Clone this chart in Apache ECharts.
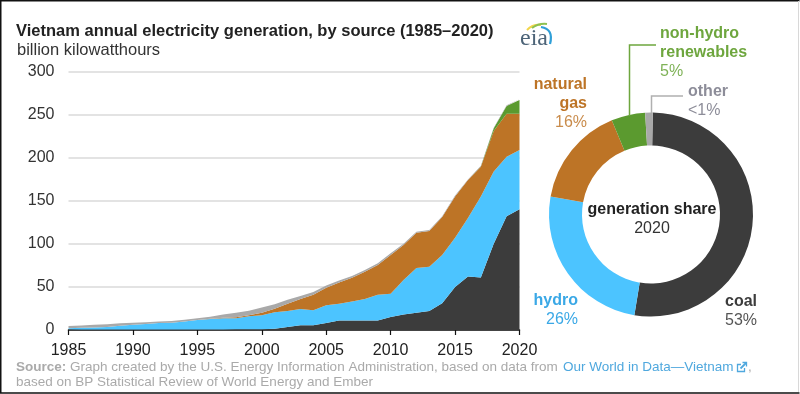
<!DOCTYPE html>
<html>
<head>
<meta charset="utf-8">
<style>
  html, body { margin: 0; padding: 0; background: #fff; }
  #chart { width: 800px; height: 394px; }
</style>
<script src="https://cdn.jsdelivr.net/npm/echarts@6/dist/echarts.min.js"></script>
</head>
<body>
<div id="chart"></div>
<script>
const years = ['1985','1986','1987','1988','1989','1990','1991','1992','1993','1994','1995','1996','1997','1998','1999','2000','2001','2002','2003','2004','2005','2006','2007','2008','2009','2010','2011','2012','2013','2014','2015','2016','2017','2018','2019','2020']

// layer thickness per year, billion kWh
const coal = [0.8, 0.7, 0.7, 0.6, 0.5, 0.5, 0.5, 0.5, 0.5, 0.5, 0.5, 0.6, 0.7, 0.8, 0.9, 1, 1.5, 3.5, 5.5, 5.5, 8, 11, 11, 11, 11, 15, 18, 20, 22, 31, 50, 62, 61, 100, 132, 140]
const hydro = [1.2, 1.8, 2.3, 2.9, 4.5, 5.7, 6.5, 7.5, 8, 9.5, 11.1, 12.2, 12.8, 12.7, 15.1, 16, 19, 18.5, 18.9, 17.5, 20.7, 19.5, 22, 25, 30, 27, 40, 52, 51.5, 56, 57, 68, 94, 84, 69, 69]
const gas = [0, 0, 0, 0, 0, 0, 0, 0, 0, 0, 0, 0.2, 0.8, 1.2, 1, 3, 4.2, 8.5, 11.6, 18, 20.3, 24.5, 27.7, 31.7, 34.4, 45, 40.6, 41, 41.5, 44, 48, 44, 34.5, 47, 50, 42]
const renewables = [0, 0, 0, 0, 0, 0, 0, 0, 0, 0, 0, 0, 0, 0, 0, 0, 0, 0, 0, 0, 0, 0, 0, 0, 0, 0, 0, 0, 0, 0, 0, 0, 0.3, 3, 9, 16]
const other = [2.6, 2.7, 3, 3.3, 2.7, 2.3, 2, 1.8, 2, 2, 1.9, 2.5, 3.7, 5.3, 5.4, 6, 5.3, 4.5, 3.5, 3, 2.5, 2.5, 2, 2, 2, 2, 1.5, 1, 1, 1, 1, 0.8, 0.8, 0.8, 0.8, 0.8]

const shareNames = ['coal', 'hydro', 'natural gas', 'non-hydro renewables', 'other']
const shareValues = [52.7, 25.4, 16, 5.4, 1.2]

const colors = {
  coal: '#3c3c3c',
  hydro: '#4cc4ff',
  gas: '#bd7426',
  renewables: '#5b9a2f',
  other: '#a9a9a9',
}
const shareColors = [colors.coal, colors.hydro, colors.gas, colors.renewables, colors.other]

const font = '"Liberation Sans", Arial, sans-serif'

function areaSeries(name, data, color) {
  return {
    name,
    type: 'line',
    stack: 'total',
    data,
    symbol: 'none',
    silent: true,
    lineStyle: { width: 0 },
    areaStyle: { color, opacity: 1 },
    itemStyle: { color },
  }
}

function label(x, y, text, color, opts) {
  return {
    type: 'text',
    x,
    y,
    silent: true,
    z: 20,
    style: Object.assign({
      text,
      fill: color,
      font: '16px ' + font,
      textVerticalAlign: 'middle',
    }, opts),
  }
}

function stroke(type, shape, color, lineWidth) {
  return { type, shape, silent: true, z: 15, style: { stroke: color, lineWidth, fill: 'none' } }
}

const bold = 'bold 16px ' + font
const small = '13.5px ' + font

const texts = [
  label(16, 31, 'Vietnam annual electricity generation, by source (1985–2020)', '#222', { font: 'bold 16.5px ' + font }),
  label(17, 50, 'billion kilowatthours', '#333', { font: '16.5px ' + font }),

  label(660, 34, 'non-hydro', '#6ea63e', { font: bold }),
  label(660, 53, 'renewables', '#6ea63e', { font: bold }),
  label(660, 72, '5%', '#7fb257'),

  label(587, 85, 'natural', colors.gas, { font: bold, textAlign: 'right' }),
  label(587, 104, 'gas', colors.gas, { font: bold, textAlign: 'right' }),
  label(587, 123, '16%', '#c98c4c', { textAlign: 'right' }),

  label(688, 92, 'other', '#8d8d99', { font: bold }),
  label(688, 111, '<1%', '#8d8d99'),

  label(578, 301, 'hydro', '#3aa8e6', { font: bold, textAlign: 'right' }),
  label(578, 320, '26%', '#3aa8e6', { textAlign: 'right' }),

  label(757, 302, 'coal', '#3c3c3c', { font: bold, textAlign: 'right' }),
  label(757, 321, '53%', '#555', { textAlign: 'right' }),

  label(652, 210, 'generation share', '#222', { font: bold, textAlign: 'center' }),
  label(652, 229, '2020', '#333', { textAlign: 'center' }),

  label(16, 367, 'Source:', '#aaa', { font: 'bold 13.5px ' + font }),
  label(70, 367, 'Graph created by the U.S. Energy Information Administration, based on data from', '#aaa', { font: small }),
  label(563, 367, 'Our World in Data—Vietnam', '#4fa8de', { font: small }),
  label(748, 367, ',', '#aaa', { font: small }),
  label(16, 382, 'based on BP Statistical Review of World Energy and Ember', '#aaa', { font: small }),
]

const decorations = [
  // leader lines
  stroke('polyline', { points: [[629.5, 116], [629.5, 45], [656, 45]] }, '#6ea63e', 1.5),
  stroke('polyline', { points: [[651.5, 113], [651.5, 96], [683, 96]] }, '#b0b0b0', 1.5),

  // eia logo
  { type: 'text', x: 520, y: 39, silent: true, z: 15, style: { text: 'eia', fill: '#4d6478', font: '24px "Liberation Serif", serif', textVerticalAlign: 'middle' } },
  stroke('bezierCurve', { x1: 527, y1: 30, cpx1: 533, cpy1: 24, x2: 541, y2: 25 }, '#f2d64b', 2),
  stroke('bezierCurve', { x1: 532, y1: 28, cpx1: 539, cpy1: 23, x2: 547, y2: 24 }, '#8cc152', 2),
  stroke('bezierCurve', { x1: 541, y1: 27, cpx1: 554, cpy1: 29, x2: 550, y2: 44 }, '#2f9fd8', 2.2),

  // external link icon
  stroke('polyline', { points: [[741, 364.5], [737.5, 364.5], [737.5, 371.5], [744.5, 371.5], [744.5, 368]] }, '#4fa8de', 1.3),
  stroke('polyline', { points: [[740.5, 368.5], [746, 363]] }, '#4fa8de', 1.8),
  stroke('polyline', { points: [[742.5, 362.5], [746.5, 362.5], [746.5, 366.5]] }, '#4fa8de', 1.3),

  // frame, the right edge is only a faint line
  stroke('polyline', { points: [[799.5, 0.75], [0.75, 0.75], [0.75, 393], [799.5, 393]] }, '#111', 1.5),
  stroke('polyline', { points: [[798.5, 1], [798.5, 392]] }, '#d8d8d8', 1),
]

const chart = echarts.init(document.getElementById('chart'), null, { renderer: 'canvas' })

chart.setOption({
  animation: false,
  backgroundColor: '#fff',
  textStyle: { fontFamily: font },
  grid: { left: 68.5, right: 280.5, top: 71.5, bottom: 64, containLabel: false },
  xAxis: {
    type: 'category',
    data: years,
    boundaryGap: false,
    axisLine: { lineStyle: { color: '#111', width: 1.5 } },
    axisTick: { alignWithLabel: true, interval: 4, length: 5, lineStyle: { color: '#111', width: 1.2 } },
    axisLabel: { interval: 4, color: '#222', fontSize: 16, margin: 13, hideOverlap: false },
    splitLine: { show: false },
  },
  yAxis: {
    type: 'value',
    min: 0,
    max: 300,
    interval: 50,
    axisLine: { show: false },
    axisTick: { show: false },
    axisLabel: { color: '#333', fontSize: 16, margin: 14 },
    splitLine: { lineStyle: { color: '#e3e3e3', width: 2 } },
  },
  series: [
    areaSeries('coal', coal, colors.coal),
    areaSeries('hydro', hydro, colors.hydro),
    areaSeries('natural gas', gas, colors.gas),
    areaSeries('non-hydro renewables', renewables, colors.renewables),
    areaSeries('other', other, colors.other),
    {
      name: 'generation share',
      type: 'pie',
      center: [651, 214.5],
      radius: [69, 102],
      startAngle: 89,
      silent: true,
      label: { show: false },
      labelLine: { show: false },
      data: shareNames.map((name, i) => ({
        name,
        value: shareValues[i],
        itemStyle: { color: shareColors[i] },
      })),
    },
  ],
  graphic: { elements: texts.concat(decorations) },
})
</script>
</body>
</html>
